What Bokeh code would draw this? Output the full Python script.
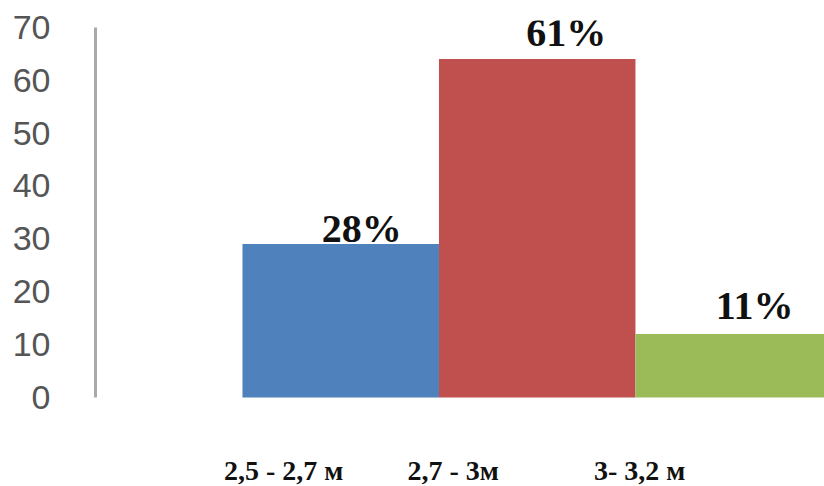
from bokeh.plotting import figure
from bokeh.models import ColumnDataSource, LabelSet, Range1d, SingleIntervalTicker
from bokeh.embed import file_html
from bokeh.resources import INLINE

categories = ["2,5 - 2,7 м", "2,7 - 3м", "3- 3,2 м"]
bar_heights = [29, 64, 12]
pct_labels = ["28%", "61%", "11%"]
colors = ["#4F81BD", "#C0504D", "#9BBB59"]
positions = [1, 2, 3]

src = ColumnDataSource(dict(
    x=positions, top=bar_heights, color=colors, pct=pct_labels, cat=categories,
    base=[0, 0, 0],
    pct_dx=[21, 29, 21], pct_dy=[2, 13, 15],
    cat_dx=[-57, -84, -94],
))

p = figure(width=824, height=486, output_backend="svg", toolbar_location=None,
           x_range=Range1d(-0.248, 3.462), y_range=Range1d(-16.86, 71.3),
           min_border_left=95, min_border_right=0, min_border_top=20, min_border_bottom=0)

p.vbar(x="x", top="top", width=1.0, color="color", source=src, line_color=None)

p.xaxis.visible = False
p.xgrid.visible = False
p.ygrid.visible = False
p.outline_line_color = None

ya = p.yaxis[0]
ya.ticker = SingleIntervalTicker(interval=10)
ya.bounds = (0, 70)
ya.axis_line_color = "#A9A9A9"
ya.axis_line_width = 3
ya.major_tick_line_color = None
ya.minor_tick_line_color = None
ya.major_label_standoff = 39
ya.major_label_text_font = "Liberation Sans"
ya.major_label_text_font_size = "34px"
ya.major_label_text_color = "#555555"

pct = LabelSet(x="x", y="top", text="pct", source=src, x_offset="pct_dx", y_offset="pct_dy",
               text_align="center", text_baseline="alphabetic",
               text_font="Liberation Serif", text_font_style="bold",
               text_font_size="40px", text_color="#111111")
p.add_layout(pct)

cat = LabelSet(x="x", y="base", text="cat", source=src, x_offset="cat_dx", y_offset=-73,
               text_align="center", text_baseline="middle",
               text_font="Liberation Serif", text_font_style="bold",
               text_font_size="28px", text_color="#111111")
p.add_layout(cat)

open("out.html", "w").write(file_html(p, INLINE))
